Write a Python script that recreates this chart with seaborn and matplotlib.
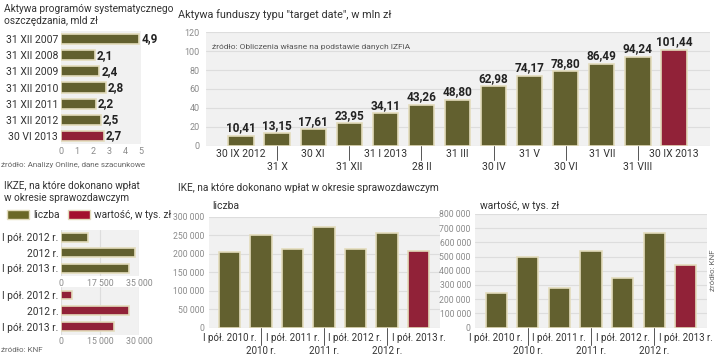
import numpy as np
import pandas as pd
import seaborn as sns
import matplotlib.pyplot as plt
from matplotlib.patches import Patch

# data
psp_dates = ["31 XII 2007", "31 XII 2008", "31 XII 2009", "31 XII 2010",
             "31 XII 2011", "31 XII 2012", "30 VI 2013"]
psp_values = [4.9, 2.1, 2.4, 2.8, 2.2, 2.5, 2.7]

td_dates = ["30 IX 2012", "31 X", "30 XI", "31 XII", "31 I 2013", "28 II", "31 III",
            "30 IV", "31 V", "30 VI", "31 VII", "31 VIII", "30 IX 2013"]
td_values = [10.41, 13.15, 17.61, 23.95, 34.11, 43.26, 48.80,
             62.98, 74.17, 78.80, 86.49, 94.24, 101.44]

ikze_periods = ["I pół. 2012 r.", "2012 r.", "I pół. 2013 r."]
ikze_count = [12000, 33000, 30500]
ikze_value = [4100, 26300, 20500]

ike_periods = ["I pół. 2010 r.", "2010 r.", "I pół. 2011 r.", "2011 r.",
               "I pół. 2012 r.", "2012 r.", "I pół. 2013 r."]
ike_count = [203000, 250000, 213000, 272000, 213000, 256000, 208000]
ike_value = [243000, 495000, 279000, 540000, 347000, 665000, 441000]

OLIVE = "#6b6826"
RED = "#a3102d"
EDGE = "#e3dcbc"
BG = "#f1f1f1"
GRID = "#dddddd"
TXT = "#333333"
TICK = "#8a8a8a"

sns.set_theme(style="white")
plt.rcParams['font.family'] = ['Roboto', 'DejaVu Sans']
BOLD = ['Liberation Sans Narrow', 'Roboto', 'DejaVu Sans']

W, H = 720, 355
fig = plt.figure(figsize=(7.2, 3.55), dpi=100)


def ax_px(left, top, right, bottom):
    return fig.add_axes([left / W, 1 - bottom / H, (right - left) / W, (bottom - top) / H])


def style(ax, grid_axis):
    ax.set_facecolor(BG)
    for s in ax.spines.values():
        s.set_visible(False)
    ax.grid(True, axis=grid_axis, color=GRID, linewidth=0.8)
    ax.set_axisbelow(True)
    ax.tick_params(length=0, pad=2)
    ax.set_xlabel("")
    ax.set_ylabel("")


def fmt(v):
    return f"{v:,}".replace(",", " ")


def colors_for(n):
    return [OLIVE] * (n - 1) + [RED]


# ---- top-left: PSP assets
ax1 = ax_px(61, 31, 141, 144)
df1 = pd.DataFrame({"date": psp_dates, "val": psp_values})
sns.barplot(data=df1, y="date", x="val", hue="date", palette=colors_for(len(psp_dates)),
            legend=False, ax=ax1, width=0.62, edgecolor=EDGE, linewidth=1.2, orient="h")
style(ax1, "x")
ax1.grid(False)
ax1.set_xlim(0, 5)
ax1.set_xticks(range(6))
ax1.tick_params(axis="x", labelsize=6.5, labelcolor=TICK)
ax1.tick_params(axis="y", labelsize=7.5, labelcolor=TXT)
for i, v in enumerate(psp_values):
    ax1.text(v + 0.12, i, f"{v:.1f}".replace(".", ","), va="center", ha="left",
             fontsize=8.5, fontweight="bold", color="#222222", family=BOLD)
fig.text(4 / W, 1 - 4 / H, "Aktywa programów systematycznego\noszczędzania, mld zł",
         ha="left", va="top", fontsize=7.3, color=TXT, linespacing=1.2)
fig.text(1 / W, 1 - 165 / H, "źródło: Analizy Online, dane szacunkowe",
         ha="left", va="center", fontsize=5.8, color="#666666")

# ---- bottom-left: IKZE
fig.text(4 / W, 1 - 181 / H, "IKZE, na które dokonano wpłat\nw okresie sprawozdawczym",
         ha="left", va="top", fontsize=7.2, color=TXT, linespacing=1.2)
fig.legend(handles=[Patch(facecolor=OLIVE, edgecolor=EDGE), Patch(facecolor=RED, edgecolor=EDGE)],
           labels=["liczba", "wartość, w tys. zł"], loc="center left",
           bbox_to_anchor=(2 / W, 1 - 215 / H), ncol=2, frameon=False, fontsize=7.3,
           handlelength=2.2, handleheight=1.0, handletextpad=0.4, columnspacing=0.8,
           borderpad=0, labelcolor=TXT)

ax2 = ax_px(61, 229.5, 139, 276)
df2 = pd.DataFrame({"p": ikze_periods, "val": ikze_count})
sns.barplot(data=df2, y="p", x="val", color=OLIVE, ax=ax2, width=0.55,
            edgecolor=EDGE, linewidth=1.2, orient="h")
style(ax2, "x")
ax2.set_xlim(0, 35000)
ax2.set_xticks([0, 17500, 35000])
ax2.set_xticklabels([fmt(t) for t in [0, 17500, 35000]])
ax2.tick_params(axis="x", labelsize=6.3, labelcolor=TICK)
ax2.tick_params(axis="y", labelsize=7.3, labelcolor=TXT)

ax3 = ax_px(61, 287, 139, 334.5)
df3 = pd.DataFrame({"p": ikze_periods, "val": ikze_value})
sns.barplot(data=df3, y="p", x="val", color=RED, ax=ax3, width=0.55,
            edgecolor=EDGE, linewidth=1.2, orient="h")
style(ax3, "x")
ax3.set_xlim(0, 30000)
ax3.set_xticks([0, 15000, 30000])
ax3.set_xticklabels([fmt(t) for t in [0, 15000, 30000]])
ax3.tick_params(axis="x", labelsize=6.3, labelcolor=TICK)
ax3.tick_params(axis="y", labelsize=7.3, labelcolor=TXT)
fig.text(1 / W, 1 - 350 / H, "źródło: KNF", ha="left", va="center", fontsize=5.8, color="#666666")


def two_row_xlabels(ax, labels, y1, y2, size):
    ax.set_xticks(range(len(labels)))
    ax.set_xticklabels([""] * len(labels))
    trans = ax.get_xaxis_transform()
    for i, lab in enumerate(labels):
        if i % 2 == 0:
            ax.text(i, y1, lab, transform=trans, ha="center", va="top", fontsize=size, color=TXT)
        else:
            ax.text(i, y2, lab, transform=trans, ha="center", va="top", fontsize=size, color=TXT)
            ax.plot([i, i], [0, y2 + 0.01], transform=trans, color="#555555",
                    linewidth=0.7, clip_on=False)


# ---- top-right: target date funds
ax4 = ax_px(205.5, 32.3, 709.5, 145.7)
df4 = pd.DataFrame({"d": td_dates, "val": td_values})
sns.barplot(data=df4, x="d", y="val", hue="d", palette=colors_for(len(td_dates)),
            legend=False, ax=ax4, width=0.7, edgecolor=EDGE, linewidth=1.2)
style(ax4, "y")
ax4.set_ylim(0, 120)
ax4.set_yticks(range(0, 121, 20))
ax4.tick_params(axis="y", labelsize=6.5, labelcolor=TICK, pad=4)
two_row_xlabels(ax4, td_dates, -0.03, -0.14, 7.5)
for i, v in enumerate(td_values):
    ax4.text(i, v + 1.5, f"{v:.2f}".replace(".", ","), ha="center", va="bottom",
             fontsize=8.5, fontweight="bold", color="#222222", family=BOLD)
ax4.text(0.012, 0.87, "źródło: Obliczenia własne na podstawie danych IZFiA",
         transform=ax4.transAxes, fontsize=6, color="#555555", va="center")
fig.text(178 / W, 1 - 15 / H, 'Aktywa funduszy typu "target date", w mln zł',
         ha="left", va="center", fontsize=7.8, color=TXT)

# ---- bottom: IKE
fig.text(178 / W, 1 - 188 / H, "IKE, na które dokonano wpłat w okresie sprawozdawczym",
         ha="left", va="center", fontsize=7.3, color=TXT)

ax5 = ax_px(208.5, 216.5, 439.5, 327.7)
df5 = pd.DataFrame({"p": ike_periods, "val": ike_count})
sns.barplot(data=df5, x="p", y="val", hue="p", palette=colors_for(len(ike_periods)),
            legend=False, ax=ax5, width=0.67, edgecolor=EDGE, linewidth=1.2)
style(ax5, "y")
ax5.set_ylim(0, 300000)
ax5.set_yticks(range(0, 300001, 50000))
ax5.set_yticklabels([fmt(t) for t in range(0, 300001, 50000)])
ax5.tick_params(axis="y", labelsize=6.2, labelcolor=TICK, pad=3)
two_row_xlabels(ax5, ike_periods, -0.05, -0.165, 7.0)
fig.text(212 / W, 1 - 206 / H, "liczba", ha="left", va="center", fontsize=7.5, color=TXT)

ax6 = ax_px(475, 214, 707, 327.5)
df6 = pd.DataFrame({"p": ike_periods, "val": ike_value})
sns.barplot(data=df6, x="p", y="val", hue="p", palette=colors_for(len(ike_periods)),
            legend=False, ax=ax6, width=0.67, edgecolor=EDGE, linewidth=1.2)
style(ax6, "y")
ax6.set_ylim(0, 800000)
ax6.set_yticks(range(0, 800001, 100000))
ax6.set_yticklabels([fmt(t) for t in range(0, 800001, 100000)])
ax6.tick_params(axis="y", labelsize=6.2, labelcolor=TICK, pad=3)
two_row_xlabels(ax6, ike_periods, -0.05, -0.165, 7.0)
fig.text(480 / W, 1 - 206 / H, "wartość, w tys. zł", ha="left", va="center", fontsize=7.5, color=TXT)
fig.text(713 / W, 1 - 270 / H, "źródło: KNF", ha="center", va="center", rotation=90,
         fontsize=5.8, color="#666666")

fig.savefig("out.png", dpi=100)
